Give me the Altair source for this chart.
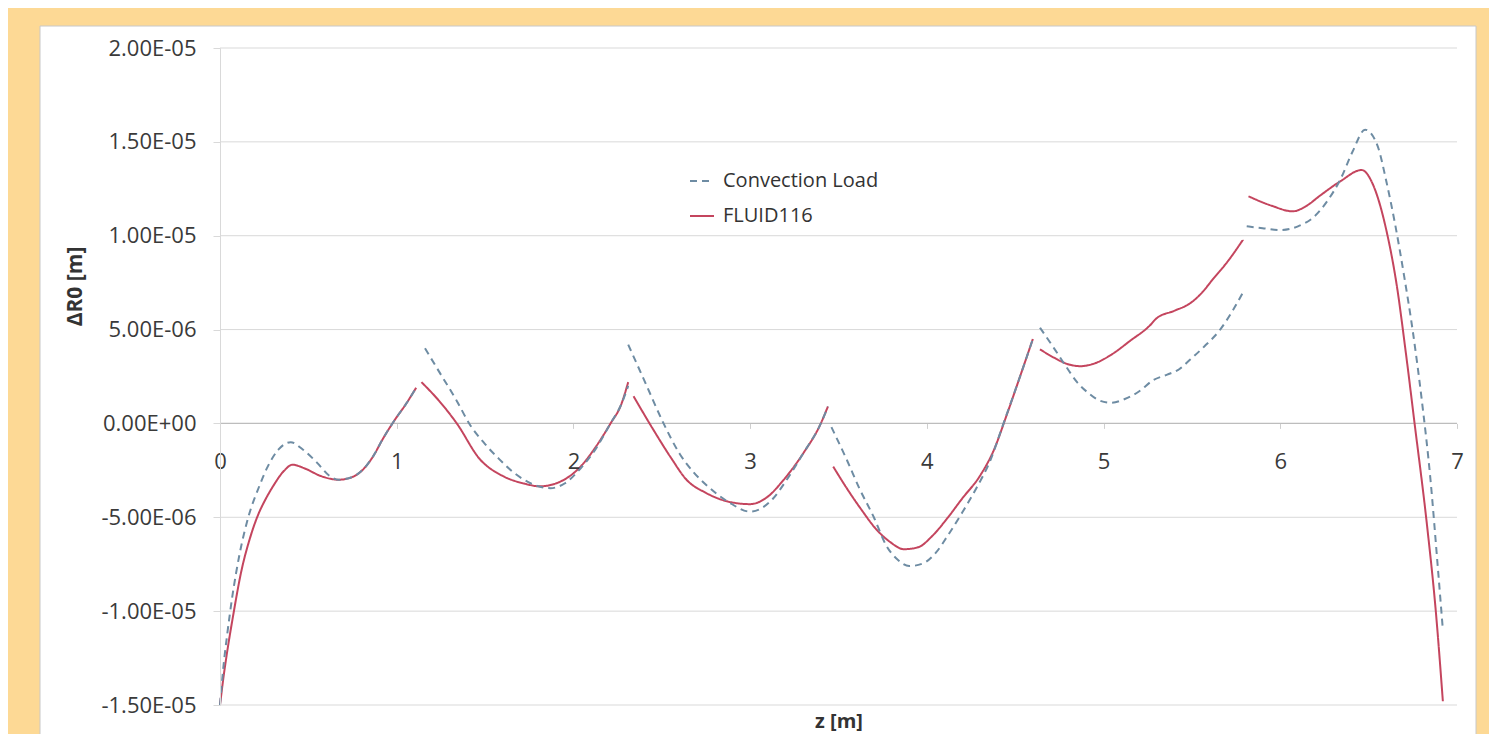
import json
import altair as alt
import pandas as pd

# ---------------- data (values in units of 1e-6 m) ----------------
series_names = ["Convection Load", "FLUID116"]

conv_z = [0, 0.02, 0.04, 0.07, 0.11, 0.16, 0.22, 0.27, 0.33, 0.40, 0.47, 0.55, 0.62, 0.67, 0.75, 0.81, 0.87, 0.92, 0.99, 1.05, 1.11,
          1.16, 1.25, 1.34, 1.41, 1.5, 1.58, 1.66, 1.76, 1.87, 1.95, 2.04, 2.13, 2.21, 2.27, 2.31,
          2.31, 2.41, 2.51, 2.6, 2.68, 2.76, 2.88, 3.0, 3.13, 3.2, 3.3, 3.4, 3.44,
          3.46, 3.55, 3.62, 3.7, 3.77, 3.84, 3.9, 3.98, 4.05, 4.12, 4.2, 4.28, 4.36, 4.43, 4.52, 4.6,
          4.64, 4.72, 4.79, 4.85, 4.91, 4.97, 5.04, 5.12, 5.2, 5.28, 5.36, 5.43, 5.49, 5.57, 5.66, 5.73, 5.79,
          5.81, 5.9, 6.0, 6.1, 6.19, 6.27, 6.34, 6.41, 6.48, 6.55, 6.6, 6.65, 6.7, 6.75, 6.8, 6.85, 6.89, 6.92]
conv_v = [-15, -12.9, -11.3, -9.2, -7.0, -5.0, -3.4, -2.3, -1.4, -1.0, -1.4, -2.1, -2.8, -3.0, -2.85, -2.45, -1.7, -0.85, 0.2, 1.0, 1.9,
          4.0, 2.6, 1.2, 0.0, -1.1, -1.9, -2.6, -3.2, -3.45, -3.2, -2.4, -1.3, 0.0, 1.0, 2.0,
          4.2, 2.1, 0.0, -1.6, -2.6, -3.35, -4.2, -4.7, -4.0, -3.1, -1.6, 0.0, 0.9,
          -0.2, -2.0, -3.5, -5.0, -6.5, -7.3, -7.6, -7.45, -6.9, -5.95, -4.75, -3.45, -1.95, -0.1, 2.3, 4.5,
          5.1, 4.0, 3.0, 2.2, 1.65, 1.25, 1.1, 1.3, 1.7, 2.3, 2.6, 2.9, 3.4, 4.1, 5.0, 6.0, 7.0,
          10.5, 10.4, 10.3, 10.5, 11.0, 11.9, 13.0, 14.5, 15.65, 14.8, 12.9, 10.6, 7.9, 4.9, 1.3, -3.0, -7.5, -11.0]
conv_seg = [1] * 21 + [2] * 15 + [3] * 13 + [4] * 16 + [5] * 17 + [6] * 18

fluid_z = [0, 0.02, 0.04, 0.075, 0.12, 0.17, 0.21, 0.26, 0.3, 0.36, 0.41, 0.48, 0.57, 0.67, 0.75, 0.81, 0.87, 0.92, 0.99, 1.05, 1.11,
           1.14, 1.24, 1.34, 1.47, 1.6, 1.72, 1.81, 1.9, 2.04, 2.13, 2.21, 2.27, 2.31,
           2.34, 2.45, 2.55, 2.64, 2.75, 2.87, 3.0, 3.1, 3.19, 3.3, 3.4, 3.44,
           3.47, 3.55, 3.63, 3.71, 3.79, 3.87, 3.95, 4.03, 4.12, 4.2, 4.3, 4.38, 4.45, 4.52, 4.6,
           4.64, 4.72, 4.8, 4.87, 4.95, 5.05, 5.15, 5.26, 5.3, 5.4, 5.49, 5.56, 5.62, 5.7, 5.79,
           5.82, 5.95, 6.07, 6.15, 6.22, 6.34, 6.46, 6.53, 6.6, 6.66, 6.71, 6.76, 6.83, 6.88, 6.92]
fluid_v = [-15, -13.5, -12.2, -10.2, -7.9, -6.1, -5.0, -4.0, -3.35, -2.55, -2.2, -2.4, -2.8, -3.0, -2.85, -2.45, -1.7, -0.85, 0.2, 1.0, 1.9,
           2.2, 1.2, 0.0, -1.9, -2.8, -3.2, -3.35, -3.2, -2.3, -1.2, 0.0, 1.0, 2.2,
           1.45, -0.3, -1.8, -3.0, -3.7, -4.15, -4.3, -3.9, -3.0, -1.6, 0.0, 0.9,
           -2.3, -3.5, -4.6, -5.6, -6.3, -6.7, -6.6, -6.0, -5.0, -4.0, -2.8, -1.4, 0.4, 2.3, 4.5,
           3.95, 3.5, 3.15, 3.05, 3.2, 3.7, 4.4, 5.2, 5.6, 6.0, 6.4, 7.0, 7.7, 8.6, 9.8,
           12.1, 11.6, 11.3, 11.6, 12.1, 12.9, 13.5, 12.6, 10.3, 7.3, 3.8, 0.0, -5.4, -10.0, -14.8]
fluid_seg = [1] * 21 + [2] * 13 + [3] * 12 + [4] * 15 + [5] * 15 + [6] * 15

y_ticks = [-1.5e-05, -1.0e-05, -5.0e-06, 0.0, 5.0e-06, 1.0e-05, 1.5e-05, 2.0e-05]
y_tick_labels = ["-1.50E-05", "-1.00E-05", "-5.00E-06", "0.00E+00", "5.00E-06", "1.00E-05", "1.50E-05", "2.00E-05"]
x_ticks = [0, 1, 2, 3, 4, 5, 6, 7]
grid_values = [-1.5e-05, -1.0e-05, -5.0e-06, 5.0e-06, 1.0e-05, 1.5e-05, 2.0e-05]

colors = ["#6e8ca3", "#c4455e"]
dashes = [[7, 5], [1, 0]]

# ---------------- tables ----------------
conv_df = pd.DataFrame({"z": conv_z, "v": [v * 1e-6 for v in conv_v],
                        "seg": conv_seg, "series": series_names[0]})
fluid_df = pd.DataFrame({"z": fluid_z, "v": [v * 1e-6 for v in fluid_v],
                         "seg": fluid_seg, "series": series_names[1]})
grid_df = pd.DataFrame({"v": grid_values})

W, H = 1237, 657
FONT = "Open Sans"

x_scale = alt.Scale(domain=[0, 7], nice=False, zero=False)
y_scale = alt.Scale(domain=[-1.5e-05, 2.0e-05], nice=False, zero=False)

label_expr = f"{json.dumps(y_tick_labels)}[indexof({json.dumps(y_ticks)}, datum.value)]"

y_axis = alt.Axis(values=y_ticks, labelExpr=label_expr, grid=False, domain=True,
                  domainColor="#d9d9d9", ticks=True, tickSize=7, tickColor="#d9d9d9",
                  labelFont=FONT, labelFontSize=22, labelColor="#3a3a3a", labelPadding=17,
                  title="ΔR0 [m]", titleFont=FONT, titleFontSize=21, titleFontWeight="bold",
                  titleColor="#333333", titleX=-145, titleY=238, titleAngle=270,
                  titleAlign="center", titleBaseline="middle", zindex=1)

x_axis = alt.Axis(values=x_ticks, format="d", offset=-281.6, domain=False, grid=False,
                  ticks=True, tickSize=5, tickColor="#cfcfcf", labelFlush=False,
                  labelFont=FONT, labelFontSize=22, labelColor="#3a3a3a", labelPadding=23,
                  title="z [m]", titleFont=FONT, titleFontSize=20, titleFontWeight="bold",
                  titleColor="#333333", titleY=298, titleBaseline="middle", zindex=1)

x_enc = alt.X("z:Q", scale=x_scale, axis=x_axis)
y_enc = alt.Y("v:Q", scale=y_scale, axis=y_axis)

legend = alt.Legend(orient="none", legendX=469, legendY=120, title=None, symbolType="stroke",
                    symbolSize=576, symbolStrokeWidth=2, labelFont=FONT, labelFontSize=20,
                    labelColor="#333333", rowPadding=12, labelOffset=8, padding=0)

color_enc = alt.Color("series:N", scale=alt.Scale(domain=series_names, range=colors), legend=legend)
dash_enc = alt.StrokeDash("series:N", scale=alt.Scale(domain=series_names, range=dashes), legend=legend)

panel = alt.Chart(pd.DataFrame({"k": [0]})).mark_rect(
    fill="white", stroke="#c8c8c8", strokeWidth=1
).encode(x=alt.value(-180), x2=alt.value(1256), y=alt.value(-22), y2=alt.value(720))

grid = alt.Chart(grid_df).mark_rule(color="#d9d9d9", strokeWidth=1).encode(y=y_enc)
zero = alt.Chart(pd.DataFrame({"v": [0.0]})).mark_rule(color="#bdbdbd", strokeWidth=1.3).encode(y=y_enc)

fluid = alt.Chart(fluid_df).mark_line(strokeWidth=2, interpolate="monotone").encode(
    x=x_enc, y=y_enc, color=color_enc, strokeDash=dash_enc, detail="seg:N")
conv = alt.Chart(conv_df).mark_line(strokeWidth=2, interpolate="monotone").encode(
    x=x_enc, y=y_enc, color=color_enc, strokeDash=dash_enc, detail="seg:N")

chart = alt.layer(panel, grid, zero, fluid, conv).properties(
    width=W, height=H,
    autosize=alt.AutoSizeParams(type="none"),
    padding={"left": 212, "top": 40, "right": 32, "bottom": 29},
    background="#FDD995",
).configure_view(strokeWidth=0)

chart.save("out.html", embed_options={"renderer": "svg", "actions": False})
